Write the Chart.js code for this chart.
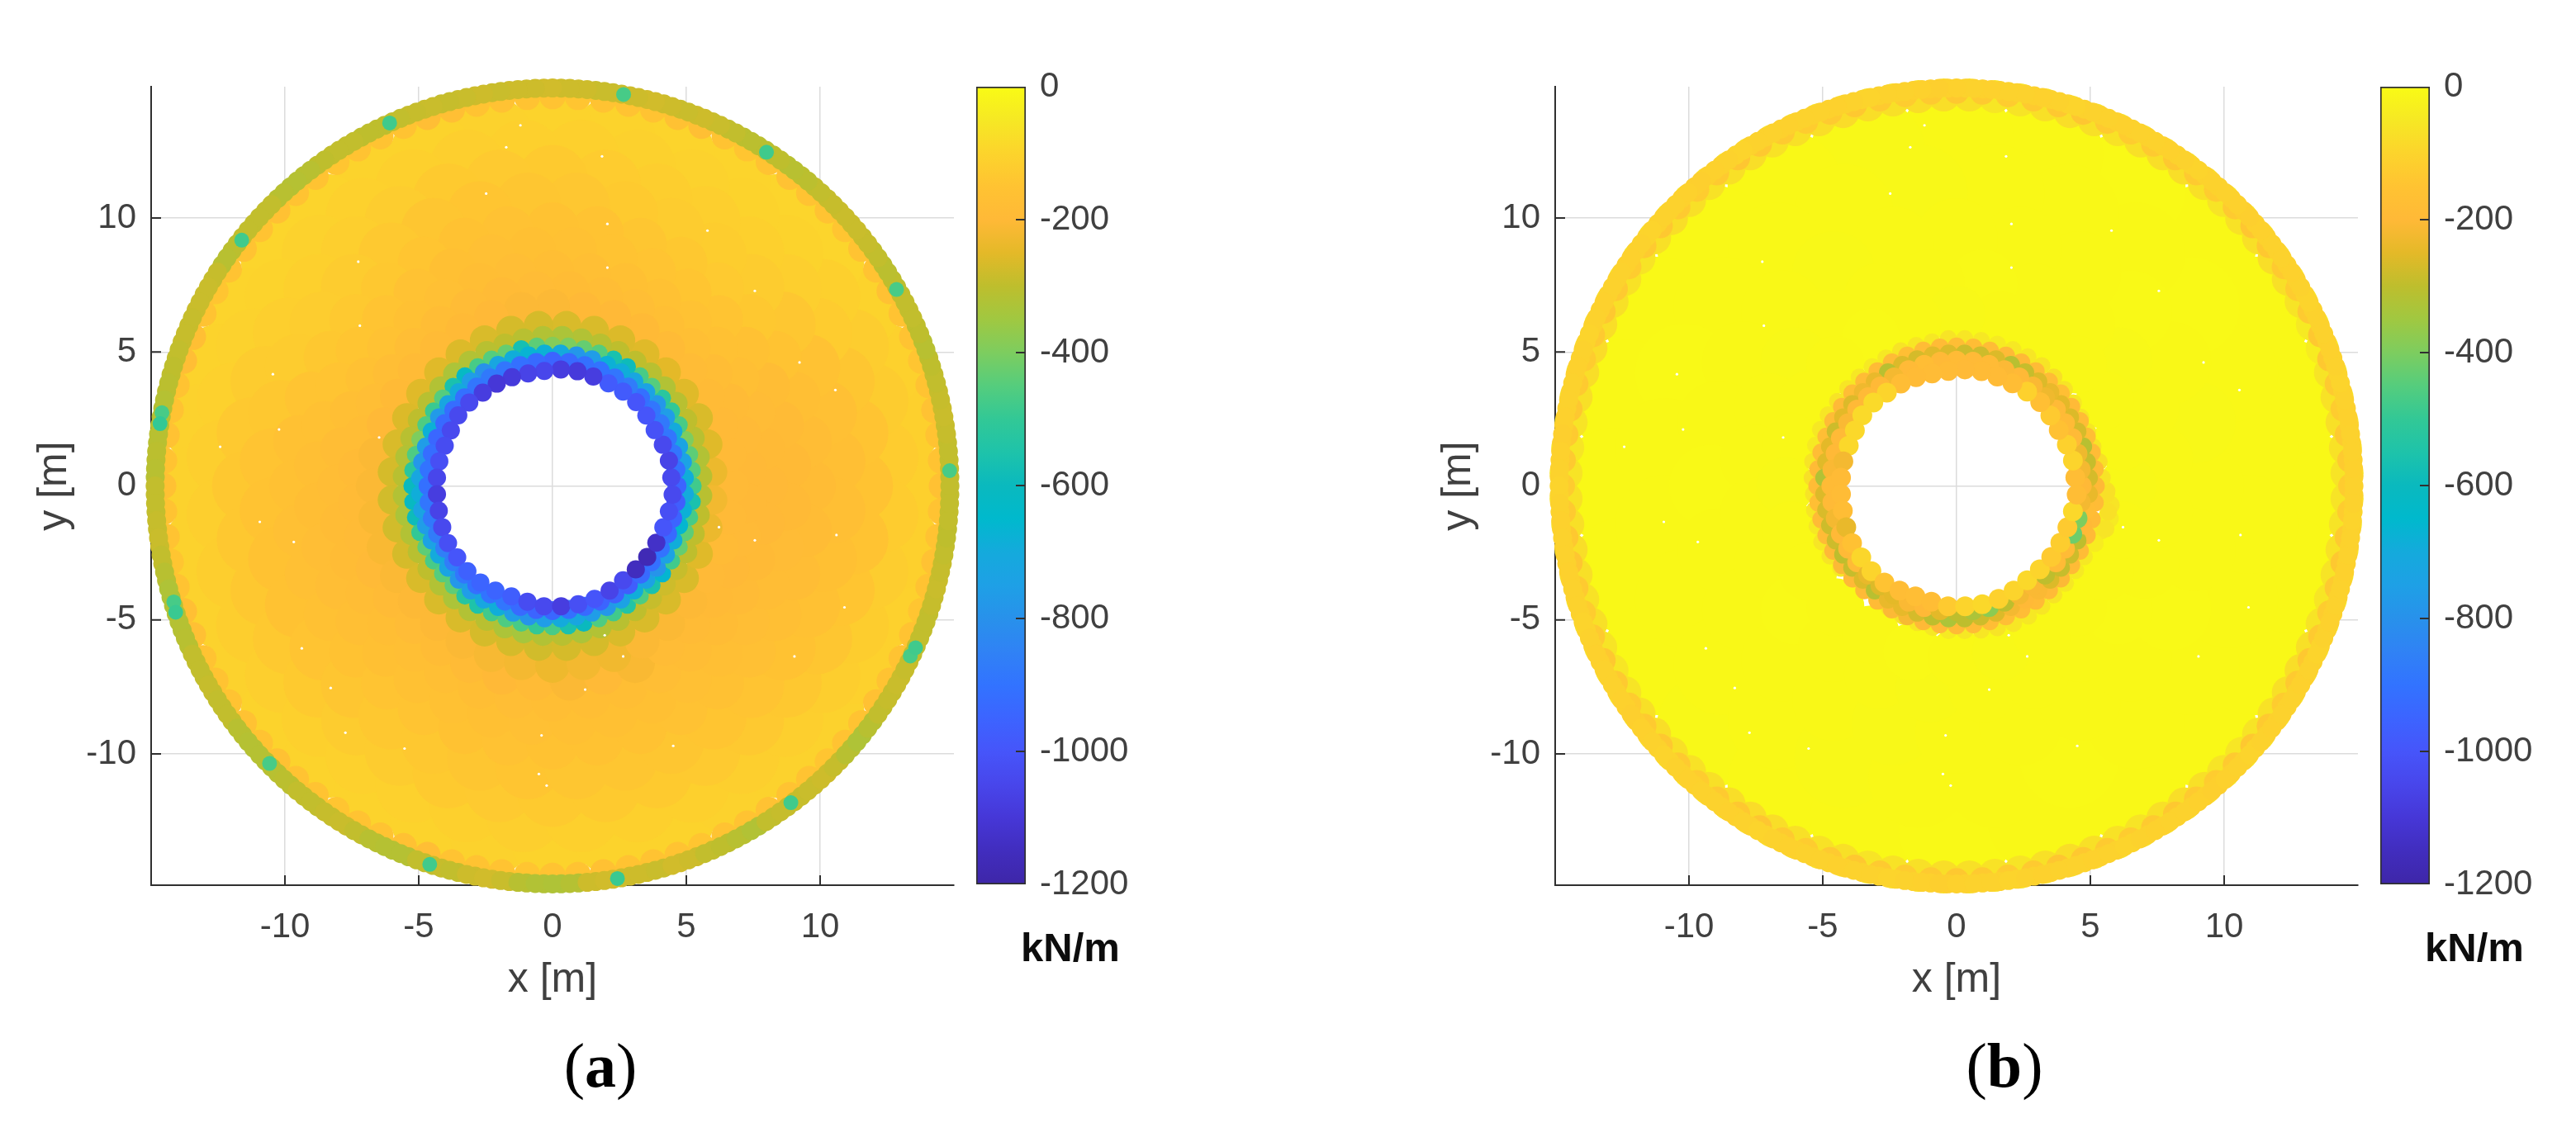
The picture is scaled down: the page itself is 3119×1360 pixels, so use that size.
<!DOCTYPE html>
<html><head><meta charset="utf-8">
<style>
html,body{margin:0;padding:0;background:#fff;width:3119px;height:1360px;overflow:hidden}
canvas{position:absolute;top:0}
.u,.c{position:absolute;transform:translate(-50%,-50%);white-space:nowrap;color:#0d0d0d}
.u{font:bold 49px "Liberation Sans",Arial,sans-serif;top:1147px}
.c{font:76px "Liberation Serif",serif;top:1290px;color:#000}
</style>
<script src="https://cdn.jsdelivr.net/npm/chart.js@4"></script>
</head><body>
<canvas id="pa" style="left:0" width="1180" height="1360"></canvas>
<canvas id="ca" style="left:1160px" width="300" height="1360"></canvas>
<canvas id="pb" style="left:1700px" width="1180" height="1360"></canvas>
<canvas id="cb" style="left:2860px" width="259" height="1360"></canvas>
<div class="u" style="left:1296px">kN/m</div>
<div class="u" style="left:2996px">kN/m</div>
<div class="c" style="left:727px">(<b>a</b>)</div>
<div class="c" style="left:2427px">(<b>b</b>)</div>
<script>
const xTicks=[-10,-5,0,5,10];
const yTicks=[-10,-5,0,5,10];
const barTicks=[0,-200,-400,-600,-800,-1000,-1200];
const xTitle='x [m]', yTitle='y [m]';
const mapValues=[0,-50,-100,-150,-200,-250,-300,-350,-400,-450,-500,-550,-600,-650,-700,-750,-800,-850,-900,-950,-1000,-1050,-1100,-1150,-1200];
const mapColors=[[249,251,21],[246,232,36],[252,212,44],[255,195,50],[255,185,55],[228,185,40],[190,190,45],[160,200,65],[125,205,95],[85,205,125],[50,200,150],[30,195,170],[10,185,190],[0,185,205],[20,170,220],[30,160,230],[40,145,235],[48,130,245],[50,115,255],[60,100,255],[70,85,250],[72,70,235],[70,55,215],[65,45,190],[62,38,168]];

// ---- panel (a): kN/m read per ring, counter-clockwise from +x
const aR132=[-112,-111,-110,-104,-97,-98,-99,-101,-103,-104,-105,-104,-102,-99,-98,-99,-102,-106,-106,-107,-107,-106,-104,-102,-102,-104,-105,-104,-104,-104,-105,-106,-107,-109,-110,-112];
const aR123=[-125,-124,-122,-112,-104,-102,-105,-108,-111,-112,-114,-112,-109,-105,-104,-105,-110,-115,-116,-117,-117,-115,-112,-110,-110,-112,-114,-112,-112,-112,-114,-115,-117,-120,-122,-125];
const aR114=[-150,-148,-140,-125,-114,-112,-114,-118,-125,-128,-130,-128,-121,-114,-112,-114,-123,-132,-134,-136,-136,-132,-128,-123,-123,-128,-130,-128,-128,-128,-130,-132,-136,-141,-145,-150];
const aR105=[-170,-165,-155,-138,-124,-120,-124,-129,-138,-141,-144,-141,-132,-124,-121,-124,-135,-147,-150,-153,-153,-147,-141,-135,-135,-141,-144,-141,-141,-141,-144,-147,-153,-158,-164,-170];
const aR96=[-184,-179,-168,-150,-135,-130,-134,-141,-150,-153,-156,-153,-144,-134,-131,-134,-147,-159,-162,-165,-165,-159,-153,-147,-147,-153,-156,-153,-153,-153,-156,-159,-165,-172,-178,-184];
const aR88=[-193,-188,-178,-160,-147,-143,-147,-152,-161,-164,-167,-164,-155,-147,-144,-147,-158,-170,-173,-176,-176,-170,-164,-158,-158,-164,-167,-164,-164,-164,-167,-170,-176,-181,-187,-193];
const aR80=[-198,-194,-186,-172,-160,-157,-160,-164,-172,-174,-176,-174,-167,-160,-157,-160,-169,-179,-181,-184,-184,-179,-174,-169,-169,-174,-176,-174,-174,-174,-176,-179,-184,-188,-193,-198];
const aR73=[-198,-196,-192,-180,-170,-172,-176,-180,-184,-186,-188,-186,-180,-175,-175,-176,-182,-188,-190,-192,-196,-190,-186,-184,-190,-200,-190,-208,-195,-212,-186,-190,-194,-198,-196,-198];
const aR67=[-195,-195,-195,-190,-185,-188,-194,-198,-198,-205,-205,-200,-194,-190,-190,-194,-200,-208,-208,-212,-212,-208,-204,-204,-208,-215,-220,-232,-222,-226,-208,-208,-204,-195,-190,-195];
const aR60=[-235,-255,-265,-255,-250,-255,-260,-265,-265,-270,-270,-265,-260,-255,-255,-260,-265,-270,-275,-275,-270,-265,-265,-265,-270,-270,-275,-270,-270,-265,-265,-265,-265,-255,-235,-225];
const aBandIn=[-160,-150,-150,-155,-150,-145,-150,-150,-160,-150,-150,-145,-150,-150,-155,-150,-145,-150,-170,-160,-150,-150,-150,-145,-150,-150,-155,-150,-170,-175,-150,-150,-150,-145,-150,-150,-160,-150,-150,-150,-145,-150,-170,-175,-150,-150,-155,-150,-160,-150,-150,-145,-150,-170,-165,-150,-150,-150,-155,-150,-160,-150,-150,-145,-150,-150,-160,-175,-150,-150,-150,-145,-150,-150,-160,-150,-150,-150,-145,-150,-150,-155,-150,-150,-145,-150,-150,-160,-150,-150,-150,-145,-150,-155,-150,-150];
const aBand=[-295,-295,-295,-290,-285,-290,-295,-300,-310,-300,-295,-295,-300,-305,-295,-290,-285,-285,-290,-295,-305,-310,-300,-305,-305,-295,-285,-280,-285,-280,-275,-280,-285,-285,-280,-280,-275,-280,-280,-285,-280,-285,-290,-285,-290,-295,-300,-300,-295,-295,-300,-310,-315,-310,-295,-295,-295,-305,-310,-290,-285,-285,-290,-290,-295,-300,-305,-315,-315,-310,-305,-310,-295,-295,-290,-285,-295,-310,-325,-320,-315,-310,-295,-295,-290,-295,-295,-310,-315,-315,-310,-305,-295,-295,-290,-285,-295,-310,-315,-315,-295,-290,-295,-280,-275,-285,-310,-320,-325,-315,-280,-275,-280,-280,-285,-275,-280,-295,-300,-310,-320,-295,-290,-290,-285,-280,-290,-310,-325,-310,-295,-290,-285,-290,-295,-295,-295,-290,-285,-290,-295,-300,-295,-295];
const aSpotAngles=[2.2,29.7,57.3,79.7,114.2,141.7,169.4,171,197,198.5,224.4,252,279.4,307,334.6,336];
const aSpotRadii=[14.85,14.8,14.8,14.85,14.85,14.8,14.85,14.85,14.8,14.85,14.8,14.85,14.85,14.8,14.8,14.85];
const aSpotValues=[-470,-470,-480,-470,-480,-480,-470,-500,-470,-490,-470,-480,-490,-480,-470,-480];
const aK555=[-310,-320,-310,-300,-310,-320,-310,-300,-300,-310,-320,-330,-320,-310,-300,-310,-320,-330,-320,-310,-300,-310,-320,-310,-320,-330,-320,-310,-300,-320,-330,-320,-310,-330,-340,-320,-310,-330,-320,-310,-300,-290,-280,-290,-300,-300,-300,-310];
const aK525=[-480,-450,-440,-400,-470,-500,-520,-450,-470,-590,-560,-450,-430,-400,-390,-440,-570,-430,-450,-470,-620,-560,-450,-490,-460,-400,-460,-520,-600,-610,-590,-500,-440,-470,-450,-440,-530,-550,-480,-460,-470,-500,-470,-560,-600,-460,-480,-540,-460,-560,-660,-480,-430,-440,-470,-560];
const aK495=[-690,-740,-730,-700,-760,-780,-740,-720,-690,-680,-760,-780,-700,-680,-670,-690,-720,-800,-760,-700,-720,-770,-680,-760,-780,-720,-690,-730,-760,-740,-700,-730,-780,-760,-720,-690,-760,-790,-760,-700,-720,-760,-780,-740,-690,-740,-790,-740,-690,-660,-680,-700];
const aK465=[-950,-910,-890,-890,-880,-890,-910,-870,-890,-900,-910,-930,-950,-930,-910,-890,-880,-890,-910,-920,-930,-940,-920,-900,-910,-890,-880,-870,-860,-870,-890,-910,-900,-890,-930,-950,-940,-910,-930,-950,-960,-970,-930,-910,-900,-930,-950,-970];
const aK436=[-1040,-1060,-1040,-1010,-1000,-1000,-980,-980,-1080,-1090,-1080,-1050,-1060,-1090,-1100,-1080,-1040,-1040,-1040,-1030,-1020,-1050,-1080,-1060,-1040,-1020,-1000,-960,-950,-950,-970,-1030,-1040,-1080,-1020,-1000,-1060,-1040,-1150,-1170,-1130,-1000,-1020,-1040];
const aK436Radii=[4.45,4.45,4.4,4.35,4.38,4.42,4.4,4.36,4.36,4.38,4.36,4.3,4.3,4.33,4.35,4.35,4.4,4.4,4.33,4.3,4.33,4.33,4.33,4.35,4.4,4.45,4.45,4.5,4.5,4.45,4.4,4.42,4.5,4.5,4.52,4.5,4.45,4.4,4.4,4.42,4.42,4.42,4.45,4.5];
const aRadii=[13.2,12.3,11.4,10.5,9.6,8.8,8.0,7.3,6.7,6.0,14.55,14.85,14.85,5.55,5.25,4.95,4.65,aK436Radii];
const aSizes=[50,46,43,40,32,29,26,24,21,18,16,11.5,11.5,14,10.5,11,11.5,11];
const aRings=[aR132,aR123,aR114,aR105,aR96,aR88,aR80,aR73,aR67,aR60,aBandIn,aBand,aBand,aK555,aK525,aK495,aK465,aK436];

// ---- panel (b)
const bI128=[-8,-8,-7,-8,-6,-8,-8,-9,-8,-7,-8,-8,-8,-7,-8,-9,-8,-8,-6,-8,-8,-7,-8,-8];
const bI110=[-7,-8,-6,-8,-7,-8,-9,-8,-7,-8,-6,-8,-8,-7,-8,-8,-9,-7,-8,-6,-8,-8,-7,-8];
const bI92=[-8,-9,-8,-6,-8,-7,-8,-8,-9,-8,-7,-8,-6,-8,-8,-7,-8,-9,-8,-8,-7,-8,-6,-8];
const bI76=[-8,-7,-9,-8,-8,-6,-8,-7,-8,-9,-8,-8,-7,-8,-6,-8,-8,-9,-7,-8,-8,-6,-8,-7];
const bI64=[-9,-8,-8,-7,-8,-8,-9,-8,-6,-8,-7,-8,-9,-8,-8,-7,-8,-6,-8,-9,-8,-7,-8,-8];
const bLight=[-60,-65,-70,-65,-60,-40,-45,-60,-70,-75,-70,-65,-60,-70,-75,-75,-70,-65,-70,-75,-70,-60,-55,-70,-75,-75,-70,-75,-80,-75,-70,-65,-75,-70,-65,-70,-75,-70,-60,-65,-70,-75,-80,-75,-70,-60,-55,-60,-65,-70,-75,-70,-65,-70,-60,-55,-60,-70,-75,-70,-65,-70,-75,-80,-75,-70,-65,-70,-60,-65,-70,-75,-70,-65,-60,-70,-75,-70,-65,-60,-70,-75,-70,-60,-55,-60,-65,-70,-75,-70,-60,-55,-60,-65,-60,-60];
const bBandIn=[-125,-130,-130,-125,-130,-135,-135,-130,-125,-130,-135,-140,-130,-125,-130,-135,-130,-125,-130,-140,-135,-130,-125,-130,-135,-130,-125,-130,-135,-130,-125,-130,-135,-140,-130,-125,-130,-135,-130,-125,-130,-135,-130,-125,-130,-135,-130,-130,-125,-130,-135,-140,-130,-125,-130,-135,-130,-125,-130,-135,-130,-125,-130,-135,-140,-130,-125,-130,-135,-130,-125,-130,-135,-130,-125,-130,-140,-135,-130,-125,-130,-135,-130,-125,-130,-135,-130,-125,-130,-135,-130,-125,-130,-135,-130,-125];
const bBandOut=[-105,-110,-105,-105,-110,-105,-100,-105,-110,-105,-105,-100,-105,-110,-105,-105,-110,-115,-110,-105,-105,-100,-105,-110,-105,-105,-110,-105,-105,-100,-105,-110,-105,-105,-110,-105,-110,-115,-110,-105,-105,-100,-105,-110,-105,-105,-110,-105,-105,-100,-105,-110,-115,-110,-105,-105,-100,-105,-110,-105,-105,-110,-105,-100,-105,-110,-105,-105,-110,-115,-110,-105,-100,-105,-110,-105,-105,-110,-105,-105,-100,-105,-110,-105,-105,-110,-115,-110,-105,-100,-105,-110,-105,-105,-110,-105,-100,-105,-110,-105,-105,-110,-105,-105,-100,-105,-110,-115,-110,-105,-105,-100,-105,-110,-105,-105,-110,-105,-100,-105,-110,-105,-105,-110,-115,-110,-105,-100,-105,-110,-105,-105,-110,-105,-100,-105,-110,-105,-105,-110,-105,-105,-100,-105];
const bK555=[-60,-70,-60,-50,-55,-50,-60,-70,-60,-55,-50,-45,-50,-55,-60,-50,-55,-60,-50,-45,-50,-55,-60,-55,-50,-45,-60,-70,-60,-55,-50,-55,-60,-50,-55,-45,-50,-55,-60,-55,-50,-45,-50,-55,-60,-55,-50,-55,-60,-50,-45,-50,-40,-60,-70,-70];
const bK555Radii=[5.45,5.4,5.3,5.3,5.3,5.35,5.4,5.45,5.5,5.5,5.5,5.5,5.5,5.5,5.5,5.45,5.45,5.45,5.45,5.45,5.45,5.45,5.45,5.48,5.5,5.48,5.45,5.4,5.35,5.38,5.42,5.45,5.4,5.3,5.2,5.15,5.15,5.2,5.25,5.3,5.35,5.4,5.4,5.45,5.5,5.55,5.55,5.5,5.45,5.45,5.45,5.45,5.6,5.8,5.75,5.6];
const bK530=[-200,-190,-185,-175,-185,-195,-170,-185,-190,-200,-195,-185,-180,-175,-190,-185,-170,-190,-190,-185,-180,-195,-185,-175,-180,-190,-185,-170,-190,-190,-200,-205,-200,-195,-190,-205,-215,-200,-195,-190,-185,-180,-175,-185,-190,-195,-205,-190,-185,-195,-190,-185];
const bK500=[-270,-290,-310,-270,-260,-250,-240,-260,-290,-310,-260,-280,-280,-260,-255,-270,-260,-310,-240,-230,-260,-250,-280,-250,-255,-320,-260,-265,-280,-280,-300,-290,-260,-310,-240,-245,-270,-300,-330,-300,-280,-260,-220,-200,-210,-260,-290,-280,-300,-200,-180,-240];
const bK470=[-200,-220,-230,-195,-190,-195,-230,-210,-200,-205,-190,-195,-190,-200,-180,-195,-220,-200,-195,-200,-210,-195,-200,-210,-190,-195,-220,-200,-195,-190,-240,-260,-250,-210,-200,-250,-300,-330,-380,-300,-220,-210,-300,-190,-190,-420,-400,-220];
const bK436=[-180,-100,-110,-160,-130,-170,-110,-180,-190,-190,-195,-190,-185,-190,-180,-100,-85,-85,-90,-90,-220,-190,-185,-180,-240,-160,-95,-100,-150,-180,-175,-180,-130,-100,-90,-110,-100,-90,-100,-130,-120,-130,-90,-180];
const bBumpAngles=[-22,-17,-12,-7,-2];
const bBumpRadii=[5.5,5.65,5.85,5.8,5.6];
const bBumpValues=[-40,-55,-45,-60,-70];
const bRadii=[12.8,11,9.2,7.6,6.4,14.6,14.72,14.85,14.85,bK555Radii,5.2,4.95,4.68,aK436Radii];
const bSizes=[70,60,50,42,35,20,15,11.5,11.5,10.5,11,11,12,12];
const bRings=[bI128,bI110,bI92,bI76,bI64,bLight,bBandIn,bBandOut,bBandOut,bK555,bK530,bK500,bK470,bK436];

const gapX=[-7.26,-9.67,10.61,6.22,-6.48,-10.22,-2.48,2.05,4.51,-0.51,1.22,2.64,9.04,-1.73,1.85,-1.2,7.56,-7.74,-5.53,-8.29,-10.94,-12.42,-10.45,-7.2,-9.37,10.57,9.23,5.79,2.05,-0.41,-0.22,7.56,1.95,10.91];
const gapY=[8.37,-2.09,-1.83,-1.54,1.81,2.11,10.91,9.78,-9.7,-10.75,-7.6,-6.36,-6.36,12.64,12.3,13.46,7.28,-9.21,-9.8,-7.54,-1.34,1.46,4.17,5.98,-6.06,3.58,4.61,9.53,8.15,-9.31,-11.18,-2.03,-5.57,-4.53];

function color(v){
  let i=0; while(i<mapValues.length-2 && v<mapValues[i+1]) i++;
  const t=Math.min(1,Math.max(0,(mapValues[i]-v)/(mapValues[i]-mapValues[i+1])));
  const a=mapColors[i],b=mapColors[i+1];
  return `rgb(${a.map((c,k)=>Math.round(c+(b[k]-c)*t)).join(',')})`;
}
const tickFont={family:'"Liberation Sans",Arial,sans-serif',size:42};
const axisInk='#303030', labelInk='#404040';
const innerTicks={id:'innerTicks',beforeDatasetsDraw(ch){
  const c=ch.ctx,A=ch.chartArea; c.save(); c.strokeStyle=axisInk; c.lineWidth=2; c.beginPath();
  xTicks.forEach(v=>{const p=ch.scales.x.getPixelForValue(v); c.moveTo(p,A.bottom); c.lineTo(p,A.bottom-12);});
  yTicks.forEach(v=>{const p=ch.scales.y.getPixelForValue(v); c.moveTo(A.left,p); c.lineTo(A.left+12,p);});
  c.stroke(); c.restore();
}};
function scatter(id,radii,sizes,rings,extra){
  const pts=[],col=[],rad=[];
  const add=(x,y,v,s)=>{pts.push({x,y});col.push(color(v));rad.push(s);};
  rings.forEach((vals,j)=>{
    vals.forEach((v,i)=>{
      const th=2*Math.PI*(i+(j%2?0.5:0))/vals.length;
      const r=Array.isArray(radii[j])?radii[j][i]:radii[j];
      add(r*Math.cos(th),r*Math.sin(th),v,sizes[j]);
    });
    if(extra&&extra.after===j) extra.angles.forEach((a,i)=>{
      const th=a*Math.PI/180; add(extra.radii[i]*Math.cos(th),extra.radii[i]*Math.sin(th),extra.values[i],extra.size);
    });
  });
  return new Chart(document.getElementById(id),{
    type:'scatter',
    data:{datasets:[
      {data:pts,pointBackgroundColor:col,pointRadius:rad,pointBorderWidth:0,pointHoverRadius:rad,clip:false,order:2},
      {data:gapX.map((x,i)=>({x,y:gapY[i]})),pointBackgroundColor:'#fff',pointRadius:1.6,pointBorderWidth:0,clip:false,order:1}
    ]},
    options:{responsive:false,maintainAspectRatio:false,animation:false,devicePixelRatio:1,
      layout:{autoPadding:false,padding:{top:105,right:25,left:0,bottom:0}},
      plugins:{legend:{display:false},tooltip:{enabled:false},title:{display:false}},
      scales:{
        x:{type:'linear',min:-15,max:15,afterBuildTicks:s=>{s.ticks=xTicks.map(value=>({value}));},afterFit:s=>{s.height=288;},
          grid:{color:'#dcdcdc',lineWidth:1.5,drawTicks:false},border:{display:true,color:axisInk,width:2},
          ticks:{font:tickFont,color:labelInk,padding:26,maxRotation:0,autoSkip:false},
          title:{display:true,text:xTitle,font:{family:tickFont.family,size:50},color:labelInk,padding:{top:0,bottom:143}}},
        y:{type:'linear',min:-14.9,max:14.9,afterBuildTicks:s=>{s.ticks=yTicks.map(value=>({value}));},afterFit:s=>{s.width=183;},
          grid:{color:'#dcdcdc',lineWidth:1.5,drawTicks:false},border:{display:true,color:axisInk,width:2},
          ticks:{font:tickFont,color:labelInk,padding:18,autoSkip:false},
          title:{display:true,text:yTitle,font:{family:tickFont.family,size:50},color:labelInk,padding:{top:36,bottom:0}}}
      }},
    plugins:[innerTicks]
  });
}
function colorbar(id,w){
  const marks={id:'marks',afterDatasetsDraw(ch){
    const c=ch.ctx,A=ch.chartArea; c.save(); c.strokeStyle=axisInk; c.lineWidth=2; c.beginPath();
    barTicks.slice(1,-1).forEach(v=>{const p=ch.scales.y.getPixelForValue(v); c.moveTo(A.right-1,p); c.lineTo(A.right-12,p);});
    c.stroke(); c.restore();
  }};
  return new Chart(document.getElementById(id),{
    type:'bar',
    data:{labels:['kN/m'],datasets:[{data:[[barTicks[barTicks.length-1],barTicks[0]]],barPercentage:1,categoryPercentage:1,borderSkipped:false,borderWidth:2,borderColor:axisInk,
      backgroundColor:ctx=>{
        const A=ctx.chart.chartArea; if(!A) return '#888';
        const g=ctx.chart.ctx.createLinearGradient(0,A.top,0,A.bottom);
        mapValues.forEach((v,i)=>g.addColorStop(-v/1200,`rgb(${mapColors[i].join(',')})`));
        return g;
      }}]},
    options:{responsive:false,animation:false,devicePixelRatio:1,
      layout:{padding:{top:105,left:22,right:0,bottom:289}},
      plugins:{legend:{display:false},tooltip:{enabled:false}},
      scales:{x:{display:false},
        y:{position:'right',min:-1200,max:0,afterBuildTicks:s=>{s.ticks=barTicks.map(value=>({value}));},afterFit:s=>{s.width=w-82;},
          grid:{display:false,drawTicks:false},border:{display:false},
          ticks:{font:tickFont,color:labelInk,padding:17,autoSkip:false,callback:v=>String(v)}}}},
    plugins:[marks]
  });
}
scatter('pa',aRadii,aSizes,aRings,{after:12,size:9,angles:aSpotAngles,radii:aSpotRadii,values:aSpotValues});
scatter('pb',bRadii,bSizes,bRings,{after:5,size:11,angles:bBumpAngles,radii:bBumpRadii,values:bBumpValues});
colorbar('ca',300);
colorbar('cb',259);
</script>
</body></html>
